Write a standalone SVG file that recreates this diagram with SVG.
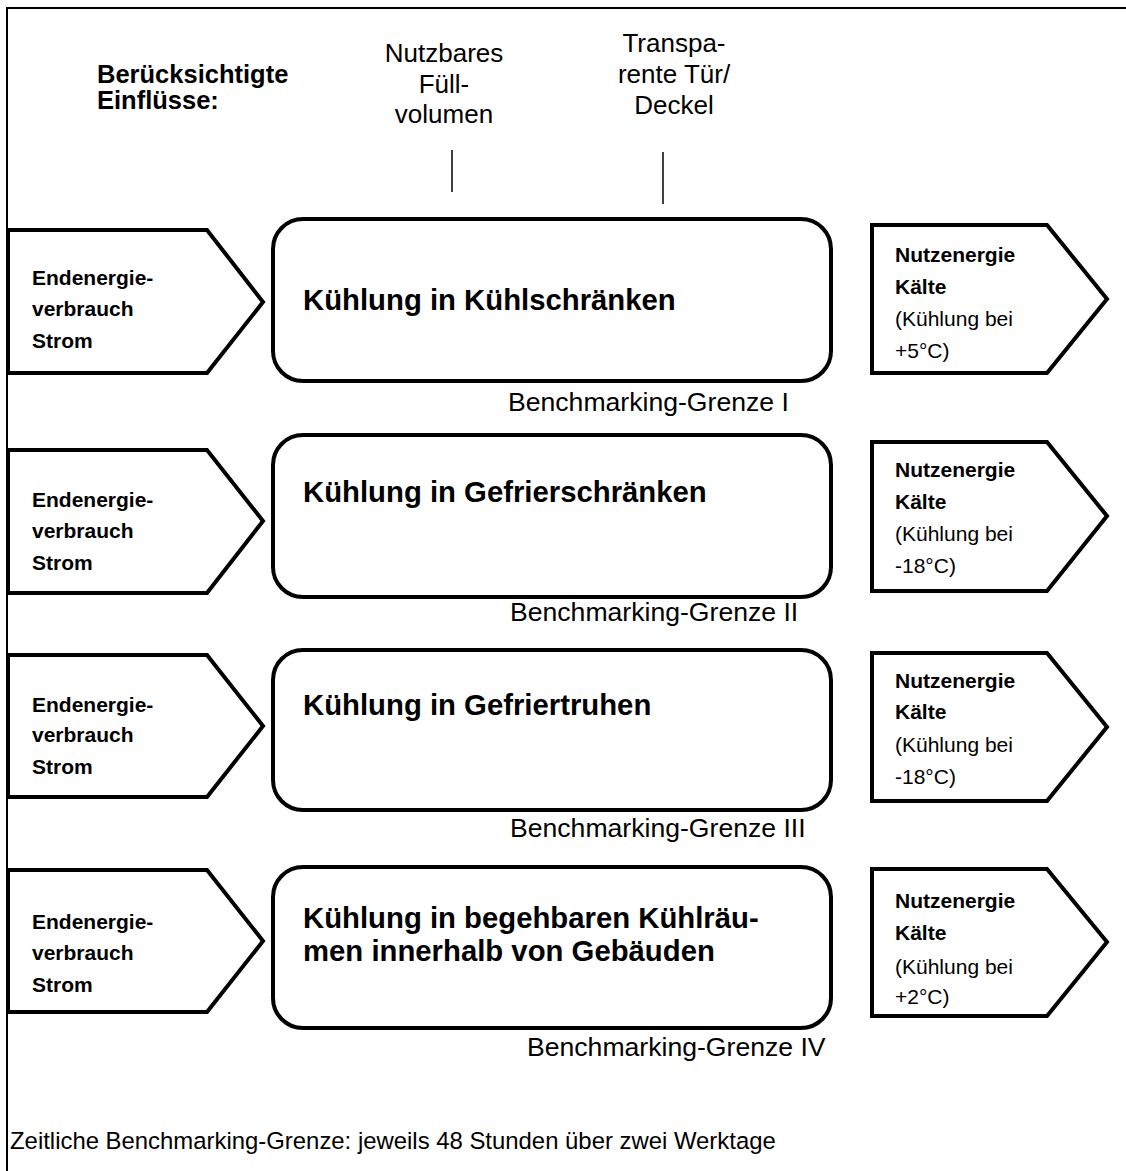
<svg xmlns="http://www.w3.org/2000/svg" width="1126" height="1171" viewBox="0 0 1126 1171">
  <style>
    text { font-family: "Liberation Sans", Arial, sans-serif; fill: #000; }
    .b { font-weight: bold; }
    .hdr { font-size: 25.5px; font-weight: bold; }
    .lbl { font-size: 26px; }
    .grz { font-size: 26.6px; }
    .io { font-size: 21px; }
    .ttl { font-size: 29.3px; font-weight: bold; }
    .box { fill: #fff; stroke: #000; stroke-width: 4; }
    .arr { fill: #fff; stroke: #000; stroke-width: 4; stroke-linejoin: miter; }
    .tick { stroke: #000; stroke-width: 1.5; }
  </style>
  <rect width="1126" height="1171" fill="#fff"/>
  <!-- outer frame (open at right and bottom) -->
  <path d="M7,1171 V8 H1126" fill="none" stroke="#000" stroke-width="2"/>

  <!-- heading and influences -->
  <g id="header">
    <text class="hdr" x="97" y="83">Berücksichtigte</text>
    <text class="hdr" x="97" y="109">Einflüsse:</text>
  </g>
  <g id="influence-volume" text-anchor="middle">
    <text class="lbl" x="444" y="62">Nutzbares</text>
    <text class="lbl" x="444" y="93">Füll-</text>
    <text class="lbl" x="444" y="123">volumen</text>
  </g>
  <g id="influence-door" text-anchor="middle">
    <text class="lbl" x="674" y="52">Transpa-</text>
    <text class="lbl" x="674" y="83">rente Tür/</text>
    <text class="lbl" x="674" y="114">Deckel</text>
  </g>
  <g id="connectors">
    <line class="tick" x1="452" y1="150" x2="452" y2="192"/>
    <line class="tick" x1="663" y1="152" x2="663" y2="204"/>
  </g>

  <!-- row I -->
  <g id="in-1">
    <path class="arr" d="M8,230 H207 L263,302 L207,373 H8 Z"/>
    <text class="b io" x="32" y="285">Endenergie-</text>
    <text class="b io" x="32" y="316">verbrauch</text>
    <text class="b io" x="32" y="348">Strom</text>
  </g>
  <g id="box-1">
    <rect class="box" x="273" y="219" width="558" height="162" rx="30"/>
    <text class="ttl" x="303" y="310">Kühlung in Kühlschränken</text>
    <text class="grz" x="508" y="411">Benchmarking-Grenze I</text>
  </g>
  <g id="out-1">
    <path class="arr" d="M872,225 H1047 L1107,299 L1047,373 H872 Z"/>
    <text class="b io" x="895" y="262">Nutzenergie</text>
    <text class="b io" x="895" y="294">Kälte</text>
    <text class="io" x="895" y="326">(Kühlung bei</text>
    <text class="io" x="895" y="358">+5°C)</text>
  </g>

  <!-- row II -->
  <g id="in-2">
    <path class="arr" d="M8,450 H207 L263,521 L207,593 H8 Z"/>
    <text class="b io" x="32" y="507">Endenergie-</text>
    <text class="b io" x="32" y="538">verbrauch</text>
    <text class="b io" x="32" y="570">Strom</text>
  </g>
  <g id="box-2">
    <rect class="box" x="273" y="435" width="558" height="162" rx="30"/>
    <text class="ttl" x="303" y="502">Kühlung in Gefrierschränken</text>
    <text class="grz" x="510" y="621">Benchmarking-Grenze II</text>
  </g>
  <g id="out-2">
    <path class="arr" d="M872,442 H1047 L1107,516 L1047,591 H872 Z"/>
    <text class="b io" x="895" y="477">Nutzenergie</text>
    <text class="b io" x="895" y="509">Kälte</text>
    <text class="io" x="895" y="541">(Kühlung bei</text>
    <text class="io" x="895" y="573">-18°C)</text>
  </g>

  <!-- row III -->
  <g id="in-3">
    <path class="arr" d="M8,655 H207 L263,726 L207,797 H8 Z"/>
    <text class="b io" x="32" y="712">Endenergie-</text>
    <text class="b io" x="32" y="742">verbrauch</text>
    <text class="b io" x="32" y="774">Strom</text>
  </g>
  <g id="box-3">
    <rect class="box" x="273" y="650" width="558" height="160" rx="30"/>
    <text class="ttl" x="303" y="715">Kühlung in Gefriertruhen</text>
    <text class="grz" x="510" y="837">Benchmarking-Grenze III</text>
  </g>
  <g id="out-3">
    <path class="arr" d="M872,653 H1047 L1107,727 L1047,801 H872 Z"/>
    <text class="b io" x="895" y="688">Nutzenergie</text>
    <text class="b io" x="895" y="719">Kälte</text>
    <text class="io" x="895" y="752">(Kühlung bei</text>
    <text class="io" x="895" y="784">-18°C)</text>
  </g>

  <!-- row IV -->
  <g id="in-4">
    <path class="arr" d="M8,870 H207 L263,941 L207,1012 H8 Z"/>
    <text class="b io" x="32" y="929">Endenergie-</text>
    <text class="b io" x="32" y="960">verbrauch</text>
    <text class="b io" x="32" y="992">Strom</text>
  </g>
  <g id="box-4">
    <rect class="box" x="273" y="867" width="558" height="161" rx="30"/>
    <text class="ttl" x="303" y="928">Kühlung in begehbaren Kühlräu-</text>
    <text class="ttl" x="303" y="961">men innerhalb von Gebäuden</text>
    <text class="grz" x="527" y="1056">Benchmarking-Grenze IV</text>
  </g>
  <g id="out-4">
    <path class="arr" d="M872,869 H1047 L1107,942 L1047,1016 H872 Z"/>
    <text class="b io" x="895" y="908">Nutzenergie</text>
    <text class="b io" x="895" y="940">Kälte</text>
    <text class="io" x="895" y="974">(Kühlung bei</text>
    <text class="io" x="895" y="1004">+2°C)</text>
  </g>

  <text id="footer" x="10" y="1149" style="font-size:23.9px">Zeitliche Benchmarking-Grenze: jeweils 48 Stunden über zwei Werktage</text>
</svg>
